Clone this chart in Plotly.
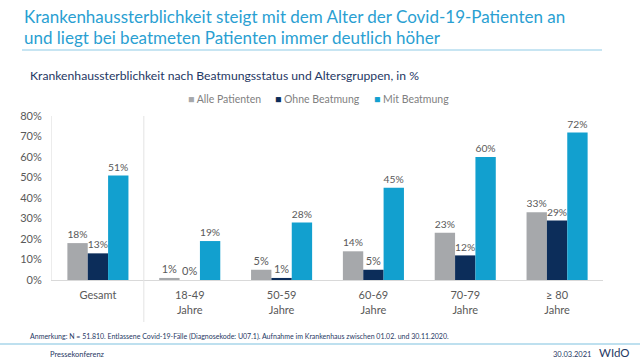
import plotly.graph_objects as go

categories = ["Gesamt", "18-49<br>Jahre", "50-59<br>Jahre", "60-69<br>Jahre", "70-79<br>Jahre", "≥ 80<br>Jahre"]
series_names = ["Alle Patienten", "Ohne Beatmung", "Mit Beatmung"]
alle = [18, 1, 5, 14, 23, 33]
ohne = [13, 0, 1, 5, 12, 29]
mit = [51, 19, 28, 45, 60, 72]
colors = ["#a6a8ab", "#0c2d5a", "#12a0cf"]
y_ticks = [0, 10, 20, 30, 40, 50, 60, 70, 80]

W, H = 640, 360
L, R, T, B = 52, 603, 116, 280
FONT = "Lato"

def px(x):
    return (x - L) / (R - L)

def py(y):
    return (B - y) / (B - T)

fig = go.Figure()
for name, vals, col in zip(series_names, [alle, ohne, mit], colors):
    fig.add_trace(go.Bar(
        x=categories, y=vals, name=name, marker_color=col, marker_line_width=0,
        text=[f"{v}%" for v in vals], textposition="outside",
        textfont=dict(size=11, color="#595959", family=FONT),
        cliponaxis=False, showlegend=False,
    ))

annotations = [
    dict(text="Krankenhaussterblichkeit steigt mit dem Alter der Covid-19-Patienten an",
         x=px(22), y=py(17), xanchor="left", yanchor="middle",
         font=dict(size=17, color="#2a9fd2", family=FONT)),
    dict(text="und liegt bei beatmeten Patienten immer deutlich höher",
         x=px(22), y=py(37), xanchor="left", yanchor="middle",
         font=dict(size=17, color="#2a9fd2", family=FONT)),
    dict(text="Krankenhaussterblichkeit nach Beatmungsstatus und Altersgruppen, in %",
         x=px(28), y=py(75), xanchor="left", yanchor="middle",
         font=dict(size=12.2, color="#1f3864", family=FONT)),
    dict(text="Anmerkung: N = 51.810. Entlassene Covid-19-Fälle (Diagnosekode: U07.1). Aufnahme im Krankenhaus zwischen 01.02. und 30.11.2020.",
         x=px(28), y=py(336), xanchor="left", yanchor="middle",
         font=dict(size=7, color="#1f3864", family=FONT)),
    dict(text="Pressekonferenz", x=px(48), y=py(354), xanchor="left", yanchor="middle",
         font=dict(size=7.5, color="#1f3864", family=FONT)),
    dict(text="30.03.2021", x=px(593), y=py(354), xanchor="right", yanchor="middle",
         font=dict(size=7.5, color="#1f3864", family=FONT)),
    dict(text="WIdO", x=px(632), y=py(352), xanchor="right", yanchor="middle",
         font=dict(size=11.5, color="#1f3864", family=FONT)),
]
legend_x = [186, 273, 372]
for name, col, lx in zip(series_names, colors, legend_x):
    annotations.append(dict(
        text=f"<span style='color:{col}'>■</span> {name}",
        x=px(lx), y=py(99), xanchor="left", yanchor="middle",
        font=dict(size=10.5, color="#7f7f7f", family=FONT)))
for a in annotations:
    a.update(xref="paper", yref="paper", showarrow=False)

shapes = [
    dict(type="line", xref="paper", yref="paper", x0=px(22), x1=px(602), y0=py(50), y1=py(50),
         line=dict(color="#8fcbe6", width=1)),
    dict(type="line", xref="paper", yref="paper", x0=px(0), x1=px(640), y0=py(344), y1=py(344),
         line=dict(color="#a9d6ea", width=1.5)),
    dict(type="line", xref="x", yref="paper", x0=0.5, x1=0.5, y0=1, y1=py(322),
         line=dict(color="#e3e3e3", width=1)),
]

fig.update_layout(
    width=W, height=H,
    margin=dict(l=L, r=W - R, t=T, b=H - B, pad=0),
    paper_bgcolor="white", plot_bgcolor="white",
    barmode="group", bargap=0.335, bargroupgap=0,
    font=dict(family=FONT, color="#595959"),
    annotations=annotations, shapes=shapes,
    xaxis=dict(showgrid=False, showline=True, linecolor="#d9d9d9", linewidth=1,
               ticks="", tickfont=dict(size=11, color="#595959"), ticklabelstandoff=5,
               fixedrange=True),
    yaxis=dict(range=[0, 80], tickvals=y_ticks, ticktext=[f"{v}%" for v in y_ticks],
               showgrid=False, zeroline=False, showline=True, linecolor="#ececec",
               ticks="", tickfont=dict(size=11, color="#595959"), ticklabelstandoff=7),
)

fig.write_html("out.html", config={"displayModeBar": False},
               post_script="document.body.style.margin='0';document.body.style.overflow='hidden';")
